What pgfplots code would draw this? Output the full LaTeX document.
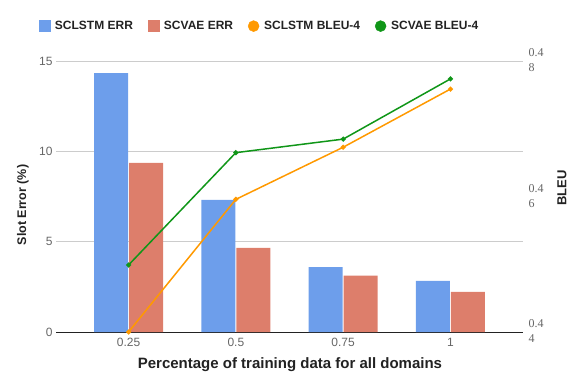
\documentclass[border=0pt]{standalone}
\usepackage{pgfplots}
\pgfplotsset{compat=1.18}
\usepackage{fontspec}
\setmainfont{Liberation Sans}
\newfontfamily\serifnum{Liberation Serif}
\definecolor{cblue}{HTML}{6D9EEB}
\definecolor{cred}{HTML}{DD7E6B}
\definecolor{corange}{HTML}{FF9900}
\definecolor{cgreen}{HTML}{109618}
\definecolor{tickgray}{HTML}{666666}
\definecolor{titlecol}{HTML}{222222}
\definecolor{gridgray}{HTML}{CCCCCC}
\begin{document}
\begin{tikzpicture}[x=1pt,y=1pt]
\path[use as bounding box] (0,0) rectangle (573,375);
\begin{axis}[
  at={(56pt,43pt)}, anchor=south west,
  scale only axis, width=467pt, height=270.7pt,
  xmin=-0.676, xmax=3.676, ymin=0, ymax=15,
  ybar=1pt, bar width=34pt,
  axis x line*=bottom, axis y line*=left,
  x axis line style={-, titlecol, line width=1pt},
  y axis line style={draw=none},
  xtick={0,1,2,3}, xticklabels={0.25,0.5,0.75,1},
  ytick={0,5,10,15},
  major tick length=0,
  ymajorgrids, grid style={gridgray, line width=0.8pt},
  xticklabel style={font=\fontsize{12}{14}\selectfont, text=tickgray, yshift=-3pt},
  yticklabel style={font=\fontsize{12}{14}\selectfont, text=tickgray},
  /pgf/number format/assume math mode=true,
  xlabel={Percentage of training data for all domains},
  xlabel style={font=\bfseries\fontsize{15}{17}\selectfont, text=titlecol, at={(axis description cs:0.501,-0.122)}, anchor=center},
  ylabel={Slot Error (\%)},
  ylabel style={font=\bfseries\fontsize{12.5}{15}\selectfont, text=titlecol, at={(axis description cs:-0.0707,0.469)}, anchor=center, rotate=0},
]
\addplot[fill=cblue, draw=none] coordinates {(0,14.35) (1,7.32) (2,3.6) (3,2.83)};
\addplot[fill=cred, draw=none] coordinates {(0,9.37) (1,4.66) (2,3.12) (3,2.22)};
\end{axis}
\begin{axis}[
  at={(56pt,43pt)}, anchor=south west,
  scale only axis, width=467pt, height=270.7pt,
  xmin=-0.676, xmax=3.676, ymin=0.44, ymax=0.48,
  axis x line=none, axis y line*=right,
  y axis line style={draw=none},
  major tick length=0,
  clip=false,
  ytick={0.44,0.46,0.48},
  yticklabels={{0.4\\4},{0.4\\6},{0.4\\8}},
  yticklabel style={align=left, font=\serifnum\fontsize{12}{15}\selectfont, text=tickgray, xshift=2pt, yshift=1pt},
  ylabel={BLEU},
  ylabel style={font=\bfseries\fontsize{13}{15}\selectfont, text=titlecol, at={(axis description cs:1.0835,0.532)}, anchor=center, rotate=0},
  legend style={at={(axis description cs:0.436,1.13)}, anchor=center, draw=none, fill=none,
    legend columns=4, font=\bfseries\fontsize{12}{14}\selectfont, text=titlecol,
    /tikz/every even column/.append style={column sep=13pt},
    /tikz/every odd column/.append style={column sep=3pt}},
  legend cell align=left,
]
\addlegendimage{only marks, mark=square*, mark size=5.5pt, color=cblue}
\addlegendentry{SCLSTM ERR}
\addlegendimage{only marks, mark=square*, mark size=5.5pt, color=cred}
\addlegendentry{SCVAE ERR}
\addplot[corange, line width=1.5pt, mark=*, mark size=1.7pt, forget plot] coordinates {(0,0.440) (1,0.4596) (2,0.4673) (3,0.4759)};
\addplot[cgreen, line width=1.5pt, mark=*, mark size=1.7pt, forget plot] coordinates {(0,0.4499) (1,0.4665) (2,0.4685) (3,0.4774)};
\addlegendimage{only marks, mark=*, mark size=5.5pt, color=corange}
\addlegendentry{SCLSTM BLEU-4}
\addlegendimage{only marks, mark=*, mark size=5.5pt, color=cgreen}
\addlegendentry{SCVAE BLEU-4}
\end{axis}
\end{tikzpicture}
\end{document}
